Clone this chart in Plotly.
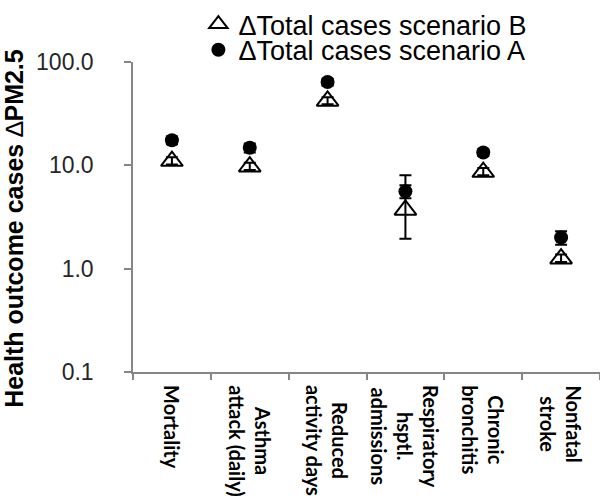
import plotly.graph_objects as go

categories = ["Mortality", "Asthma<br>attack (daily)", "Reduced<br>activity days",
              "Respiratory<br>hsptl.<br>admissions", "Chronic<br>bronchitis", "Nonfatal<br>stroke"]
cat_keys = ["Mortality", "Asthma", "Reduced", "Respiratory", "Chronic", "Nonfatal"]

scenario_a = [17.5, 14.8, 64.0, 5.6, 13.3, 2.0]
scenario_a_err = [1.5, 1.5, 5.0, 0.8, 1.0, 0.3]

scenario_b = [11.0, 9.7, 42.0, 3.7, 8.6, 1.25]
scenario_b_err_plus = [1.0, 0.9, 3.5, 4.3, 0.8, 0.12]
scenario_b_err_minus = [0.8, 0.7, 3.0, 1.75, 0.6, 0.09]

y_ticks = [0.1, 1, 10, 100]
y_tick_labels = ["0.1", "1.0", "10.0", "100.0"]

fig = go.Figure()

fig.add_trace(go.Scatter(
    x=cat_keys, y=scenario_b, mode="markers",
    name="ΔTotal cases scenario B", legend="legend",
    marker=dict(symbol="triangle-up-open", size=19, color="black", line=dict(width=2, color="black")),
    error_y=dict(type="data", symmetric=False, array=scenario_b_err_plus, arrayminus=scenario_b_err_minus,
                 color="black", thickness=2, width=6),
))
fig.add_trace(go.Scatter(
    x=cat_keys, y=scenario_a, mode="markers",
    name="ΔTotal cases scenario A", legend="legend2",
    marker=dict(symbol="circle", size=14, color="black"),
    error_y=dict(type="data", array=scenario_a_err, color="black", thickness=2, width=6),
))

for key, label in zip(cat_keys, categories):
    fig.add_annotation(
        x=key, y=0, xref="x", yref="paper", yanchor="top", xanchor="center",
        yshift=-11, textangle=90, text=label, showarrow=False, align="center",
        font=dict(family="Lato", size=20, color="black", weight="bold"),
    )

fig.add_annotation(
    x=-0.255, y=0.465, xref="paper", yref="paper", xanchor="center", yanchor="middle",
    textangle=-90, text="<b>Health outcome cases </b>∆<b>PM2.5</b>", showarrow=False,
    font=dict(family="Liberation Sans, Arial", size=25, color="black"),
)

fig.update_xaxes(
    type="category", range=[-0.5, 5.5], showline=True, linecolor="#868686", linewidth=1.5,
    ticks="outside", tickson="boundaries", ticklen=6, tickcolor="#868686", tickwidth=1.5,
    showticklabels=False, showgrid=False, zeroline=False,
)
fig.update_yaxes(
    type="log", range=[-1, 2], tickvals=y_ticks, ticktext=y_tick_labels,
    showline=True, linecolor="#868686", linewidth=1.5,
    ticks="outside", ticklen=7, tickcolor="#868686", tickwidth=1.5,
    tickfont=dict(family="Liberation Sans, Arial", size=23, color="#262626"),
    ticklabelstandoff=26,
    showgrid=False, zeroline=False,
)

legend_font = dict(family="Liberation Sans, Arial", size=27, color="black")
fig.update_layout(
    width=600, height=500,
    margin=dict(l=133, r=0, t=60, b=128),
    plot_bgcolor="white", paper_bgcolor="white",
    showlegend=True,
    legend=dict(x=0.14, y=1.122, xanchor="left", yanchor="middle",
                font=legend_font, bgcolor="rgba(0,0,0,0)"),
    legend2=dict(x=0.14, y=1.038, xanchor="left", yanchor="middle",
                 font=legend_font, bgcolor="rgba(0,0,0,0)"),
)

fig.write_html("out.html")
